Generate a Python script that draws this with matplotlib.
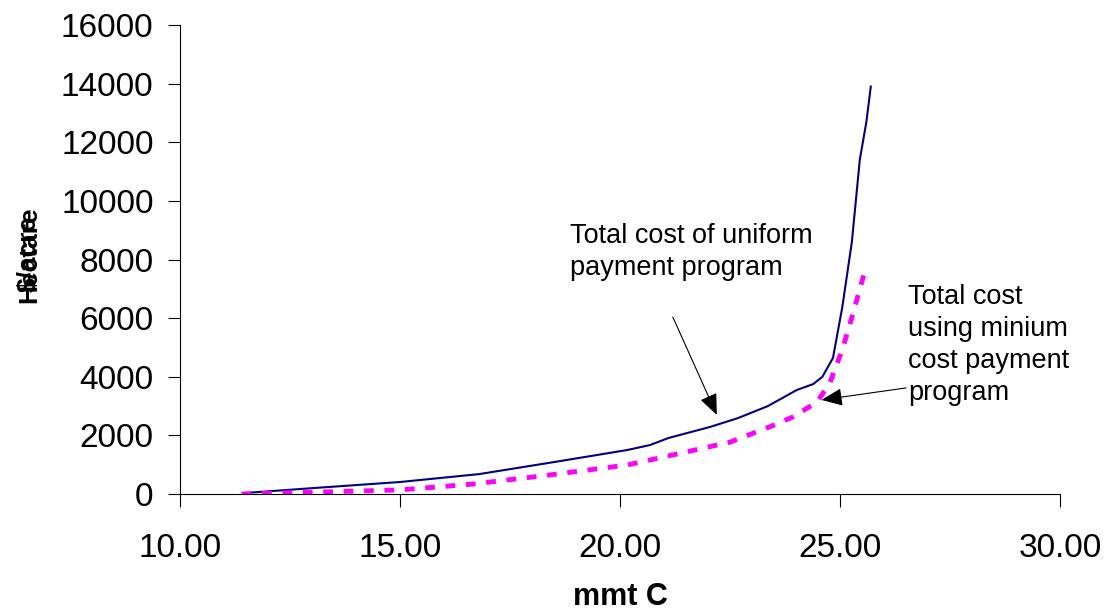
#!/usr/bin/env python3

import matplotlib
matplotlib.use("Agg")
import matplotlib.pyplot as plt

plt.rcParams['font.family'] = ['Liberation Sans', 'DejaVu Sans']

# uniform payment program
uni_x = [11.43, 13.0, 15.0, 16.8, 18.5, 20.16, 20.68, 21.1, 22.05, 22.68, 23.36,
         24.02, 24.39, 24.6, 24.84, 25.05, 25.27, 25.45, 25.6, 25.7]
uni_y = [30, 200, 410, 680, 1090, 1500, 1670, 1910, 2290, 2590, 3000,
         3550, 3750, 4000, 4640, 6350, 8600, 11400, 12700, 13900]

# minimum cost payment program
min_x = [11.4, 13.0, 15.0, 16.66, 18.4, 20.16, 20.68, 21.1, 22.5, 23.4,
         23.93, 24.48, 24.77, 25.05, 25.3, 25.6]
min_y = [0, 60, 140, 340, 650, 990, 1160, 1300, 1770, 2290,
         2630, 3140, 3790, 4910, 6180, 7800]

xticks = [10, 15, 20, 25, 30]

fig = plt.figure(figsize=(11.09, 6.14), dpi=100)
ax = fig.add_axes([0.1623, 0.1954, 0.7935, 0.7638])

ax.plot(uni_x, uni_y, color='#000080', lw=1.5)
ax.plot(min_x, min_y, color='#FF00FF', lw=3.5, linestyle=(0, (2, 2.2)))

ax.set_xlim(10, 30)
ax.set_ylim(0, 16000)
ax.set_xticks(xticks)
ax.set_xticklabels(['%.2f' % v for v in xticks])
ax.set_yticks(range(0, 16001, 2000))
ax.tick_params(labelsize=24, direction='out', length=9, width=0.8)
ax.tick_params(axis='x', pad=19)
ax.tick_params(axis='y', pad=10)
for s in ['top', 'right']:
    ax.spines[s].set_visible(False)

ax.set_xlabel('mmt C', fontsize=22, fontweight='bold', labelpad=13)
fig.text(0.026, 0.586, 'Hectare', rotation=90, fontsize=19, fontweight='bold',
         ha='center', va='center')
fig.text(0.026, 0.586, '$/acre', rotation=90, fontsize=19, fontweight='bold',
         ha='center', va='center')

ax.text(18.86, 9250, 'Total cost of uniform\npayment program', fontsize=19.5,
        linespacing=1.3, ha='left', va='top')
ax.text(26.55, 7150, 'Total cost\nusing minium\ncost payment\nprogram', fontsize=19.5,
        linespacing=1.3, ha='left', va='top')

arrow = dict(arrowstyle='-|>,head_length=1.3,head_width=0.55',
             color='black', lw=0.8, shrinkA=0, shrinkB=0)
ax.annotate('', xy=(22.2, 2700), xytext=(21.2, 6040), arrowprops=arrow)
ax.annotate('', xy=(24.58, 3210), xytext=(26.5, 3620), arrowprops=arrow)

fig.savefig('out.png', dpi=100)
